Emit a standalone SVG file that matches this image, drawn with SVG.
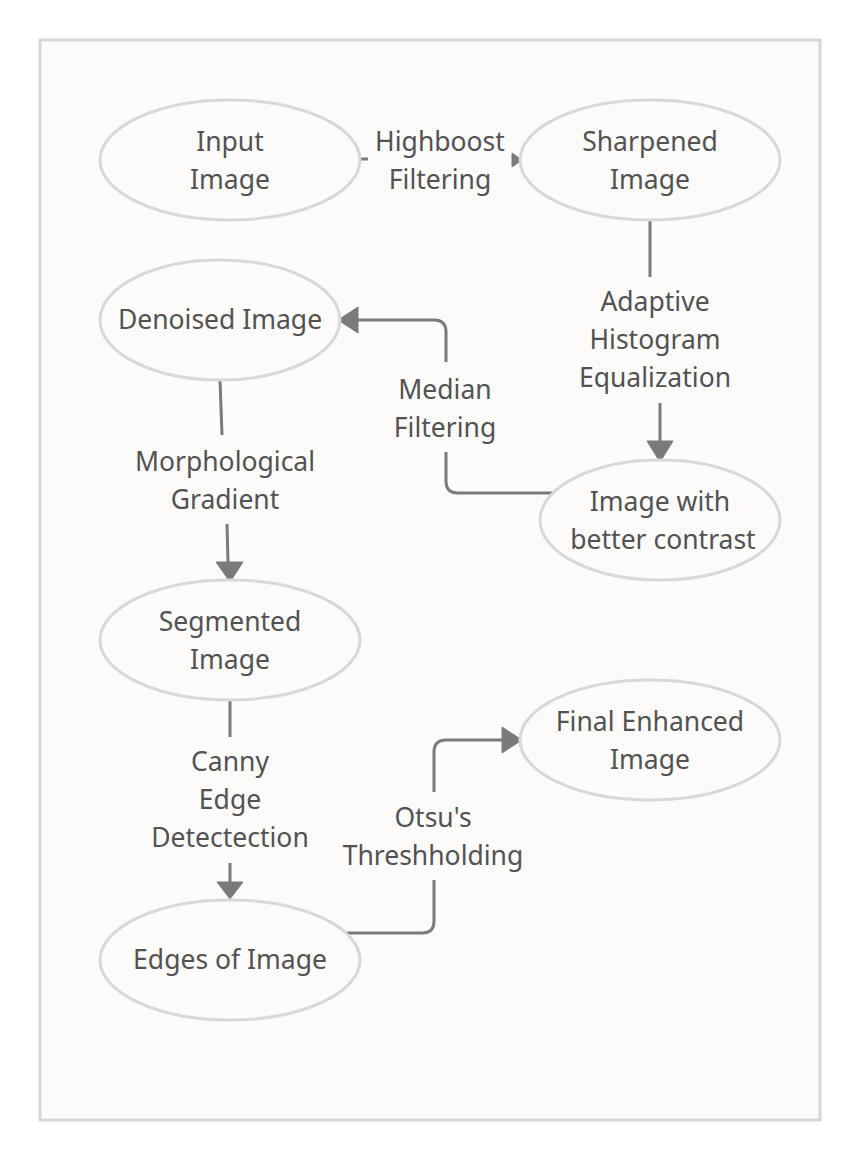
<svg xmlns="http://www.w3.org/2000/svg" width="860" height="1160" viewBox="0 0 860 1160">
<defs>
<style>
.frame{fill:#fcfbfa;stroke:#d6d6d6;stroke-width:3}
.node{fill:#fcfbfa;stroke:#d8d8d8;stroke-width:3}
.t{font-family:"Noto Sans","Open Sans","DejaVu Sans",sans-serif;font-size:26.5px;fill:#525252;text-anchor:middle}
.c{fill:none;stroke:#7a7a7a;stroke-width:3}
.ah{fill:#7a7a7a;stroke:#7a7a7a;stroke-width:1;stroke-linejoin:round}
</style>
</defs>
<rect class="frame" x="40" y="40" width="780" height="1080"/>

<g id="connectors">
  <!-- Input -> Sharpened -->
  <line class="c" x1="360" y1="159" x2="368" y2="159"/>
  <polygon class="ah" points="512,153 522,160 512,167"/>
  <text class="t" x="440" y="151">Highboost</text>
  <text class="t" x="440" y="189">Filtering</text>

  <!-- Sharpened -> Contrast -->
  <line class="c" x1="650" y1="220" x2="650" y2="277"/>
  <line class="c" x1="660" y1="403" x2="660" y2="442"/>
  <polygon class="ah" points="647,441 673,441 660,462"/>
  <text class="t" x="655" y="311">Adaptive</text>
  <text class="t" x="655" y="349">Histogram</text>
  <text class="t" x="655" y="387">Equalization</text>

  <!-- Contrast -> Denoised -->
  <path class="c" d="M553,493 H458 Q446,493 446,481 V452"/>
  <path class="c" d="M446,362 V332 Q446,320 434,320 H358"/>
  <polygon class="ah" points="358,307 358,333 338,320"/>
  <text class="t" x="445" y="399">Median</text>
  <text class="t" x="445" y="437">Filtering</text>

  <!-- Denoised -> Segmented -->
  <line class="c" x1="220" y1="380" x2="222" y2="435"/>
  <line class="c" x1="227" y1="524" x2="228" y2="563"/>
  <polygon class="ah" points="216,562 243,562 230,582"/>
  <text class="t" x="225" y="471">Morphological</text>
  <text class="t" x="225" y="509">Gradient</text>

  <!-- Segmented -> Edges -->
  <line class="c" x1="230" y1="700" x2="230" y2="737"/>
  <line class="c" x1="230" y1="863" x2="230" y2="883"/>
  <polygon class="ah" points="217,882 243,882 230,899"/>
  <text class="t" x="230" y="771">Canny</text>
  <text class="t" x="230" y="809">Edge</text>
  <text class="t" x="230" y="847">Detectection</text>

  <!-- Edges -> Final -->
  <path class="c" d="M347,933 H422 Q434,933 434,921 V880"/>
  <path class="c" d="M434,792 V752 Q434,740 446,740 H503"/>
  <polygon class="ah" points="502,727 502,753 522,740"/>
  <text class="t" x="433" y="827">Otsu's</text>
  <text class="t" x="433" y="865">Threshholding</text>
</g>

<g id="input-image">
  <ellipse class="node" cx="230" cy="160" rx="130" ry="60"/>
  <text class="t" x="230" y="151">Input</text>
  <text class="t" x="230" y="189">Image</text>
</g>
<g id="sharpened-image">
  <ellipse class="node" cx="650" cy="160" rx="130" ry="60"/>
  <text class="t" x="650" y="151">Sharpened</text>
  <text class="t" x="650" y="189">Image</text>
</g>
<g id="denoised-image">
  <ellipse class="node" cx="220" cy="320" rx="120" ry="60"/>
  <text class="t" x="220" y="329">Denoised Image</text>
</g>
<g id="contrast-image">
  <ellipse class="node" cx="660" cy="520" rx="120" ry="60"/>
  <text class="t" x="660" y="511">Image with</text>
  <text class="t" x="663" y="549">better contrast</text>
</g>
<g id="segmented-image">
  <ellipse class="node" cx="230" cy="640" rx="130" ry="60"/>
  <text class="t" x="230" y="631">Segmented</text>
  <text class="t" x="230" y="669">Image</text>
</g>
<g id="final-image">
  <ellipse class="node" cx="650" cy="740" rx="130" ry="60"/>
  <text class="t" x="650" y="731">Final Enhanced</text>
  <text class="t" x="650" y="769">Image</text>
</g>
<g id="edges-image">
  <ellipse class="node" cx="230" cy="960" rx="130" ry="60"/>
  <text class="t" x="230" y="969">Edges of Image</text>
</g>
</svg>
